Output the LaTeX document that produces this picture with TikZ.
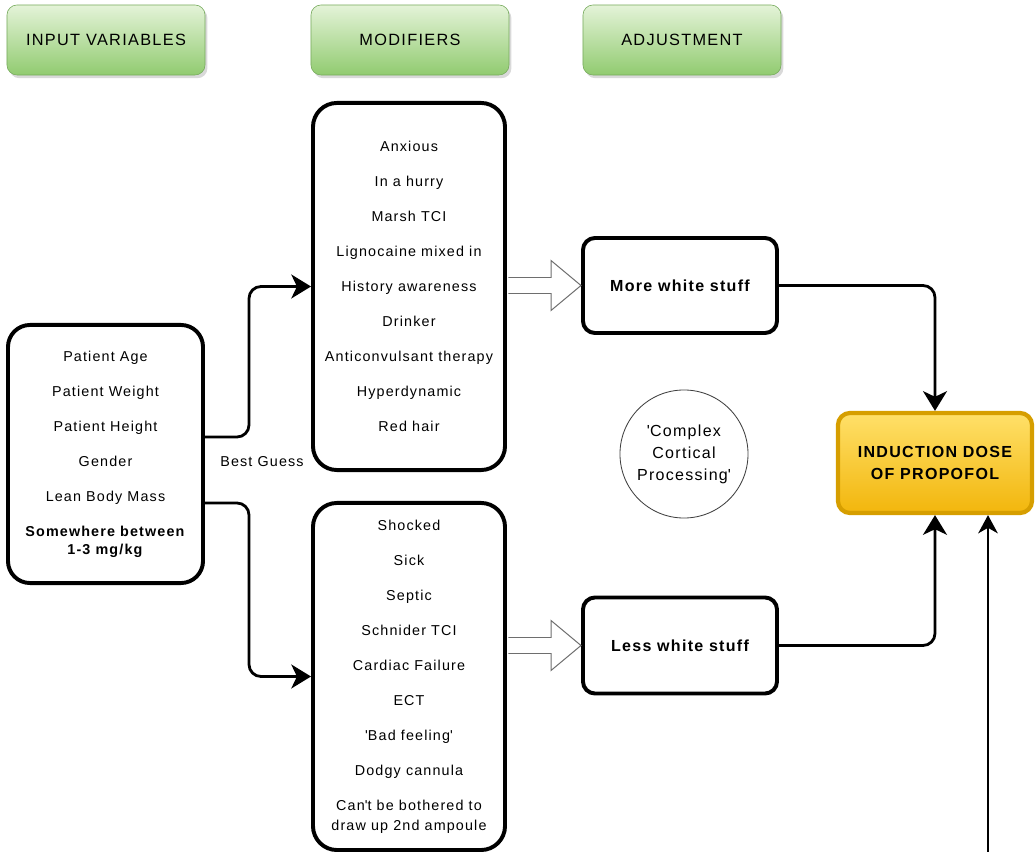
\documentclass[tikz,border=0pt]{standalone}
\usepackage{fontspec}
\setmainfont{Liberation Sans}[LetterSpace=8]
\usepackage{tikz}
\usetikzlibrary{positioning}
\usetikzlibrary{arrows.meta}
\usetikzlibrary{calc,shadows}
\definecolor{hdrtop}{RGB}{228,243,216}
\definecolor{hdrbot}{RGB}{145,203,112}
\definecolor{hdrline}{RGB}{118,170,92}
\definecolor{dosetop}{RGB}{255,224,105}
\definecolor{dosebot}{RGB}{242,182,12}
\definecolor{doseline}{RGB}{214,158,0}
\definecolor{hollowline}{RGB}{110,110,110}

\begin{document}
\begin{tikzpicture}[x=0.025cm,y=-0.025cm]
	\useasboundingbox (0,0) rectangle (1035,852);

	% column headers
	\begin{scope}[every node/.style={rectangle,rounded corners=0.25cm,draw=hdrline,top color=hdrtop,bottom color=hdrbot,
	              minimum width=4.95cm,minimum height=1.75cm,font=\fontsize{11.6pt}{13pt}\selectfont,
	              drop shadow={shadow xshift=0.06cm,shadow yshift=-0.08cm,opacity=0.3}}]
	    \node (hinput) at (106,40) {INPUT VARIABLES};
	    \node (hmod) at (410,40) {MODIFIERS};
	    \node (hadj) at (682,40) {ADJUSTMENT};
	\end{scope}

	\begin{scope}[every node/.style={rectangle,draw,line width=2.8pt,fill=white,align=center,
	              font=\fontsize{10.2pt}{14.2pt}\selectfont}]
	    \node (input) [rounded corners=0.55cm,minimum width=4.875cm,minimum height=6.45cm] at (105.5,454)
	        {Patient Age\\[10.7pt]Patient Weight\\[10.7pt]Patient Height\\[10.7pt]Gender\\[10.7pt]Lean Body Mass\\[10.7pt]
	         \textbf{Somewhere between}\\[-1.4pt]\textbf{1-3 mg/kg}};
	    \node (mod1) [rounded corners=0.6cm,minimum width=4.8cm,minimum height=9.175cm] at (409,286.5)
	        {Anxious\\[10.7pt]In a hurry\\[10.7pt]Marsh TCI\\[10.7pt]Lignocaine mixed in\\[10.7pt]History awareness\\[10.7pt]
	         Drinker\\[10.7pt]Anticonvulsant therapy\\[10.7pt]Hyperdynamic\\[10.7pt]Red hair};
	    \node (mod2) [rounded corners=0.6cm,minimum width=4.8cm,minimum height=8.675cm] at (409,676.5)
	        {Shocked\\[10.7pt]Sick\\[10.7pt]Septic\\[10.7pt]Schnider TCI\\[10.7pt]Cardiac Failure\\[10.7pt]ECT\\[10.7pt]
	         \textquotesingle Bad feeling\textquotesingle\\[10.7pt]Dodgy cannula\\[10.7pt]
	         Can\textquotesingle t be bothered to\\draw up 2nd ampoule};
	    \node (more) [rounded corners=0.3cm,minimum width=4.85cm,minimum height=2.375cm,
	                  font=\bfseries\fontsize{11.4pt}{13pt}\selectfont] at (680,285.5) {More white stuff};
	    \node (less) [rounded corners=0.3cm,minimum width=4.85cm,minimum height=2.4cm,
	                  font=\bfseries\fontsize{11.4pt}{13pt}\selectfont] at (680,645.5) {Less white stuff};
	\end{scope}

	\node (induct) [rectangle,rounded corners=0.3cm,draw=doseline,line width=3pt,top color=dosetop,bottom color=dosebot,
	                minimum width=4.85cm,minimum height=2.5cm,align=center,
	                font=\bfseries\fontsize{11.4pt}{15pt}\selectfont] at (935,463) {INDUCTION DOSE\\OF PROPOFOL};
	\node (cortex) [circle,draw=black!75,line width=0.6pt,minimum size=3.2cm,align=center,inner sep=0pt,
	                font=\fontsize{11.4pt}{15.6pt}\selectfont] at (684,454)
	                {\textquotesingle Complex\\Cortical\\Processing\textquotesingle};
	\node (guess) [font=\fontsize{10.2pt}{12pt}\selectfont] at (262,462) {Best Guess};
	\coordinate (feed) at (988,852);

	\begin{scope}[conn/.style={draw=black,line width=2pt,rounded corners=0.3cm,-{Stealth[length=14pt,width=17pt,inset=4pt]}},
	              hollow/.style={fill=white,draw=hollowline,line width=0.7pt,line join=miter}]
	    \draw[conn] ($(input.east)+(0,-17)$) -- ++(44,0) |- (mod1.west);
	    \draw[conn] ($(input.east)+(0,49)$) -- ++(44,0) |- (mod2.west);
	    \draw[conn] (more.east) -| (induct.north);
	    \draw[conn] (less.east) -| (induct.south);
	    \draw[draw=black,line width=1.1pt,-{Stealth[length=13pt,width=14pt,inset=4pt]}] (feed) -- (feed |- induct.south);
	    \filldraw[hollow] ($(mod1.east |- more.west)+(1.5,-8)$) -- ($(more.west)+(-30,-8)$) -- ($(more.west)+(-30,-25)$)
	        -- (more.west) -- ($(more.west)+(-30,25)$) -- ($(more.west)+(-30,8)$) -- ($(mod1.east |- more.west)+(1.5,8)$);
	    \filldraw[hollow] ($(mod2.east |- less.west)+(1.5,-8)$) -- ($(less.west)+(-30,-8)$) -- ($(less.west)+(-30,-25)$)
	        -- (less.west) -- ($(less.west)+(-30,25)$) -- ($(less.west)+(-30,8)$) -- ($(mod2.east |- less.west)+(1.5,8)$);
	\end{scope}
\end{tikzpicture}
\end{document}
